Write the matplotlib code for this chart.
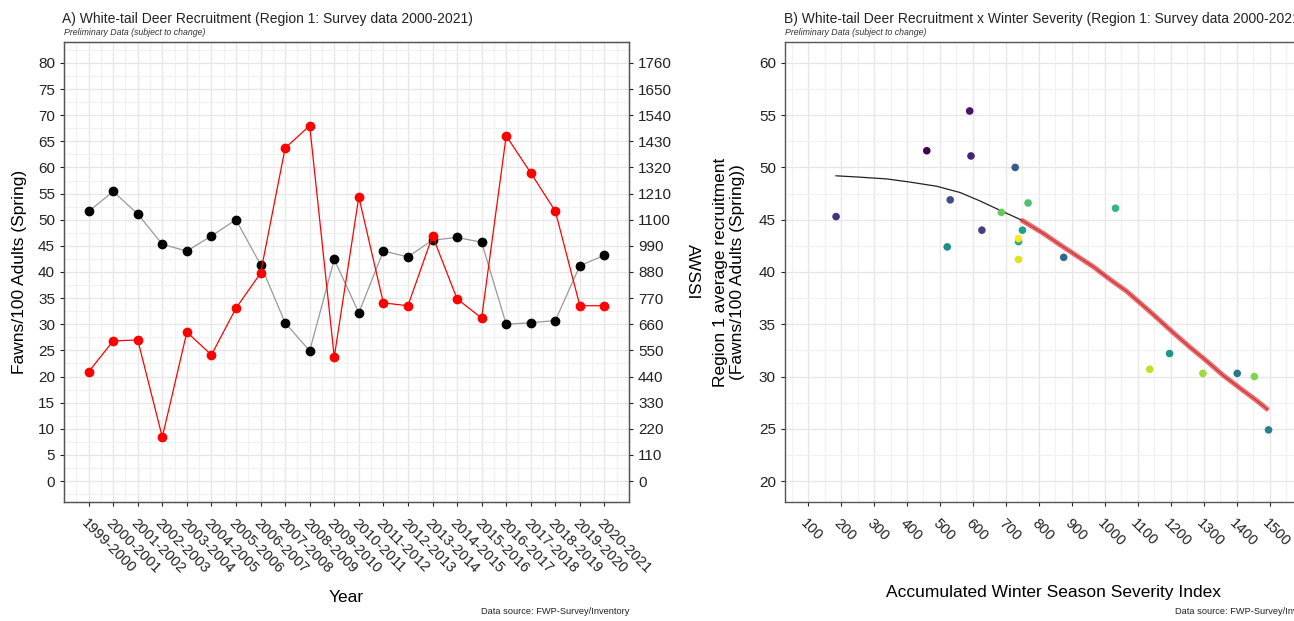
import numpy as np
import matplotlib
matplotlib.use("Agg")
import matplotlib.pyplot as plt
from matplotlib.ticker import MultipleLocator

plt.rcParams['font.family'] = ['Liberation Sans', 'DejaVu Sans']

years = ["1999-2000", "2000-2001", "2001-2002", "2002-2003", "2003-2004", "2004-2005",
         "2005-2006", "2006-2007", "2007-2008", "2008-2009", "2009-2010", "2010-2011",
         "2011-2012", "2012-2013", "2013-2014", "2014-2015", "2015-2016", "2016-2017",
         "2017-2018", "2018-2019", "2019-2020", "2020-2021"]
fawns = [51.6, 55.4, 51.1, 45.3, 44.0, 46.9, 50.0, 41.4, 30.3, 24.9, 42.4,
         32.2, 44.0, 42.9, 46.1, 46.6, 45.7, 30.0, 30.3, 30.7, 41.2, 43.2]
awssi = [460, 590, 594, 185, 627, 531, 728, 875, 1401, 1496, 522,
         1196, 750, 738, 1032, 767, 686, 1453, 1297, 1136, 738, 738]

# fitted curve (black part, then red part)
fit_x_black = [185, 258, 339, 409, 490, 561, 621, 682, 745]
fit_y_black = [49.2, 49.07, 48.9, 48.6, 48.2, 47.6, 46.8, 45.9, 45.0]
fit_x_red = [745, 813, 864, 914, 965, 1015, 1066, 1137, 1207, 1258, 1308, 1359,
             1409, 1460, 1495]
fit_y_red = [45.0, 43.7, 42.6, 41.56, 40.5, 39.3, 38.15, 36.2, 34.2, 32.8, 31.5,
             30.1, 28.9, 27.7, 26.8]

left_ticks = list(range(0, 81, 5))
right_ticks = list(range(0, 1761, 110))
sev_ticks = list(range(100, 1501, 100))

fig = plt.figure(figsize=(12.94, 6.21), dpi=100)

grid_major = "#e6e6e6"
grid_minor = "#f1f1f1"
spine_col = "#555555"
tick_col = "#222222"


def style(ax):
    for s in ax.spines.values():
        s.set_color(spine_col)
        s.set_linewidth(1.0)
    ax.grid(which="major", color=grid_major, linewidth=0.9)
    ax.grid(which="minor", color=grid_minor, linewidth=0.8)
    ax.set_axisbelow(True)
    ax.tick_params(which="major", length=3, color=tick_col, labelsize=11, labelcolor=tick_col)
    ax.tick_params(which="minor", length=0)


# ---- panel A
ax = fig.add_axes([0.0495, 0.1916, 0.4366, 0.7408])
pos = np.arange(1, len(years) + 1)
ax.plot(pos, fawns, color="#999999", linewidth=0.9, zorder=2)
ax.plot(pos, fawns, "o", color="black", markersize=6, zorder=3)
ax.set_xlim(0, 23)
ax.set_ylim(-4, 84)
ax.set_yticks(left_ticks)
ax.yaxis.set_minor_locator(MultipleLocator(2.5))
ax.set_xticks(pos)
ax.set_xticks(np.arange(0.5, 23, 1), minor=True)
ax.set_xticklabels(years, rotation=-45, ha="left", va="top", rotation_mode="anchor")
style(ax)
ax.tick_params(axis="x", which="major", labelsize=10.5, pad=7)
ax.set_ylabel("Fawns/100 Adults (Spring)", fontsize=12.5, labelpad=8)
ax.set_xlabel("Year", fontsize=12.5, labelpad=10)

ax2 = ax.twinx()
ax2.plot(pos, awssi, color="#ff0000", linewidth=0.9, zorder=2)
ax2.plot(pos, awssi, "o", color="#ff0000", markersize=6, zorder=3)
ax2.set_ylim(-88, 1848)
ax2.set_yticks(right_ticks)
for s in ax2.spines.values():
    s.set_color(spine_col)
ax2.tick_params(length=3, color=tick_col, labelsize=11, labelcolor=tick_col)
ax2.set_ylabel("AWSSI", fontsize=12.5, rotation=-90, labelpad=20)

fig.text(0.048, 0.970, "A) White-tail Deer Recruitment (Region 1: Survey data 2000-2021)",
         fontsize=10, color="#222222", va="center")
fig.text(0.0495, 0.947, "Preliminary Data (subject to change)", fontsize=6.3,
         style="italic", color="#333333", va="center")
fig.text(0.486, 0.015, "Data source: FWP-Survey/Inventory", fontsize=6.7,
         color="#222222", ha="right", va="center")

# ---- panel B
bx = fig.add_axes([0.6066, 0.1916, 0.4158, 0.7408])
cols = plt.cm.viridis(np.linspace(0, 1, len(years)))
bx.scatter(awssi, fawns, s=30, c=cols, edgecolors="none", zorder=3)
bx.plot(fit_x_black, fit_y_black, color="#222222", linewidth=0.9, zorder=2)
bx.plot(fit_x_red, fit_y_red, color="#e8282a", linewidth=3.5, alpha=0.7,
        solid_capstyle="butt", solid_joinstyle="round", zorder=2)
bx.plot(fit_x_red, fit_y_red, color="#8a1515", linewidth=0.6, alpha=0.7, zorder=2)
bx.set_xlim(30, 1661)
bx.set_ylim(18, 62)
bx.set_xticks(sev_ticks)
bx.xaxis.set_minor_locator(MultipleLocator(50))
bx.set_yticks(range(20, 61, 5))
bx.yaxis.set_minor_locator(MultipleLocator(2.5))
bx.set_xticklabels([str(t) for t in sev_ticks], rotation=-45, ha="left", va="top",
                   rotation_mode="anchor")
style(bx)
bx.tick_params(axis="x", which="major", labelsize=10.5, pad=7)
bx.set_ylabel("Region 1 average recruitment\n(Fawns/100 Adults (Spring))", fontsize=12.5,
              labelpad=10)
bx.set_xlabel("Accumulated Winter Season Severity Index", fontsize=12.5, labelpad=26)

fig.text(0.6055, 0.970, "B) White-tail Deer Recruitment x Winter Severity (Region 1: Survey data 2000-2021)",
         fontsize=10, color="#222222", va="center")
fig.text(0.6066, 0.947, "Preliminary Data (subject to change)", fontsize=6.3,
         style="italic", color="#333333", va="center")
fig.text(1.0224, 0.015, "Data source: FWP-Survey/Inventory", fontsize=6.7,
         color="#222222", ha="right", va="center")

fig.savefig("out.png", dpi=100)
